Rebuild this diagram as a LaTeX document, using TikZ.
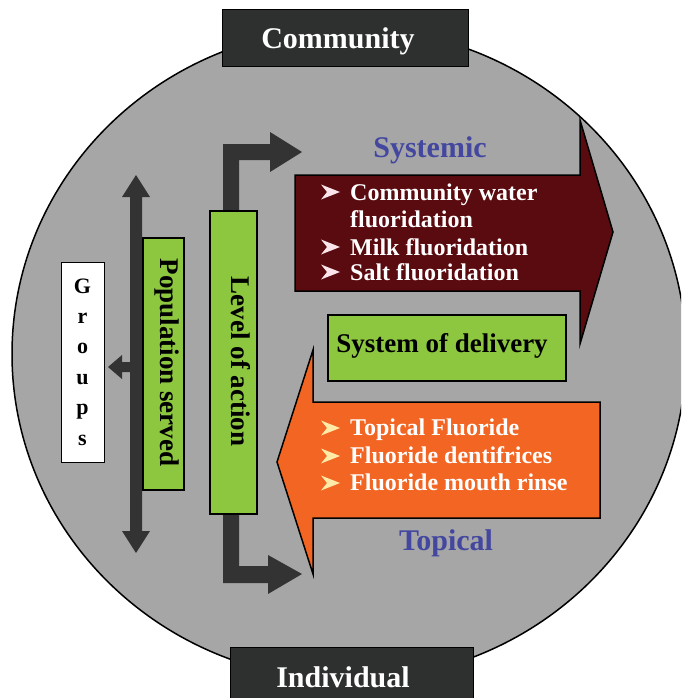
\documentclass[tikz,border=0pt]{standalone}
\usepackage{fontspec}
\setmainfont{Liberation Serif}
\definecolor{circgray}{HTML}{A6A6A6}
\definecolor{boxdark}{HTML}{2E302F}
\definecolor{arrowdark}{HTML}{333333}
\definecolor{leafgreen}{HTML}{8DC63F}
\definecolor{maroonfill}{HTML}{5A0B10}
\definecolor{flame}{HTML}{F26522}
\definecolor{labelblue}{HTML}{4347A0}
\definecolor{bulpink}{HTML}{FBE4EA}
\definecolor{bulcream}{HTML}{FFEAA8}
\newcommand\bulletat[3]{\fill[#3] (#1,#2-7.5) -- (#1+19,#2) -- (#1,#2+7.5) -- (#1+6,#2) -- cycle;}
\begin{document}
\begin{tikzpicture}[x=1pt,y=-1pt,
  darkbox/.style={draw=black, fill=boxdark, line width=1pt, inner sep=0pt},
  greenbox/.style={draw=black, fill=leafgreen, line width=1.5pt, inner sep=0pt},
  fatarrow/.style={fill=arrowdark},
  bigarrow/.style={draw=black, line width=1.5pt, line join=miter},
  biglabel/.style={font=\fontsize{30}{36}\selectfont\bfseries, anchor=base, inner sep=0pt},
  boxlabel/.style={font=\fontsize{27}{32}\selectfont\bfseries, inner sep=0pt},
  vlabel/.style={boxlabel, rotate=-90, text height=0.66em, text depth=0pt},
  bullettext/.style={font=\fontsize{24}{28}\selectfont\bfseries, text=white, anchor=base west, inner sep=0pt}
]
\useasboundingbox (0,0) rectangle (681,698);
\clip (0,0) rectangle (681,698);
% big circle
\draw[fill=circgray, line width=1.5pt] (349,354) ellipse [x radius=337, y radius=326];
% top / bottom labels
\node[darkbox, minimum width=246pt, minimum height=57pt] (comm) at (345,38.5) {};
\node[biglabel, text=white] (commtext) at (338,49) {Community};
\node[darkbox, minimum width=243pt, minimum height=60pt] (indiv) at (351.5,677) {};
\node[biglabel, text=white] (indivtext) at (343,687) {Individual};
% population double arrow with branch
\fill[fatarrow] (136,175) -- (150,197) -- (142,197) -- (142,531) -- (150,531) -- (136,553)
  -- (122,531) -- (130,531) -- (130,372) -- (122,372) -- (122,379) -- (108,367)
  -- (122,355) -- (122,362) -- (130,362) -- (130,197) -- (122,197) -- cycle;
% level of action bent arrows
\fill[fatarrow] (223,215) -- (223,144) -- (270,144) -- (270,132) -- (302,152) -- (270,172)
  -- (270,160) -- (239,160) -- (239,215) -- cycle;
\fill[fatarrow] (223,510) -- (223,583) -- (268,583) -- (268,594) -- (302,574) -- (268,555)
  -- (268,566) -- (239,566) -- (239,510) -- cycle;
% systemic and topical arrows
\draw[bigarrow, fill=maroonfill] (295,175) -- (580,175) -- (580,120) -- (613,232) -- (580,344)
  -- (580,291) -- (295,291) -- cycle;
\draw[bigarrow, fill=flame] (600,402) -- (313,402) -- (313,350) -- (277,462) -- (313,574)
  -- (313,518) -- (600,518) -- cycle;
% boxes
\node[draw=black, fill=white, line width=1pt, inner sep=0pt, minimum width=43pt, minimum height=200pt,
  font=\fontsize{22}{30.4}\selectfont\bfseries, align=center] (groups) at (82.5,362) {G\\r\\o\\u\\p\\s};
\node[greenbox, minimum width=41pt, minimum height=252pt] (pop) at (163.5,364) {};
\node[vlabel] (poptext) at (164,362.5) {Population served};
\node[greenbox, minimum width=47pt, minimum height=303pt] (level) at (233.5,362.5) {};
\node[vlabel] (leveltext) at (235,361.5) {Level of action};
\node[greenbox, minimum width=238pt, minimum height=66pt] (deliv) at (447,348) {};
\node[boxlabel, anchor=base] (delivtext) at (442,352) {System of delivery};
% headings
\node[biglabel, text=labelblue] (systemic) at (430,157) {Systemic};
\node[biglabel, text=labelblue] (topical) at (446,550) {Topical};
% systemic bullets
\bulletat{321}{192}{bulpink}
\bulletat{321}{247}{bulpink}
\bulletat{321}{272}{bulpink}
\node[bullettext] (s1) at (350,200) {Community water};
\node[bullettext] (s1b) at (350,227) {fluoridation};
\node[bullettext] (s2) at (350,255) {Milk fluoridation};
\node[bullettext] (s3) at (350,280) {Salt fluoridation};
% topical bullets
\bulletat{321}{428}{bulcream}
\bulletat{321}{456}{bulcream}
\bulletat{321}{483}{bulcream}
\node[bullettext] (t1) at (350,435) {Topical Fluoride};
\node[bullettext] (t2) at (350,463) {Fluoride dentifrices};
\node[bullettext] (t3) at (350,490) {Fluoride mouth rinse};
\end{tikzpicture}
\end{document}
